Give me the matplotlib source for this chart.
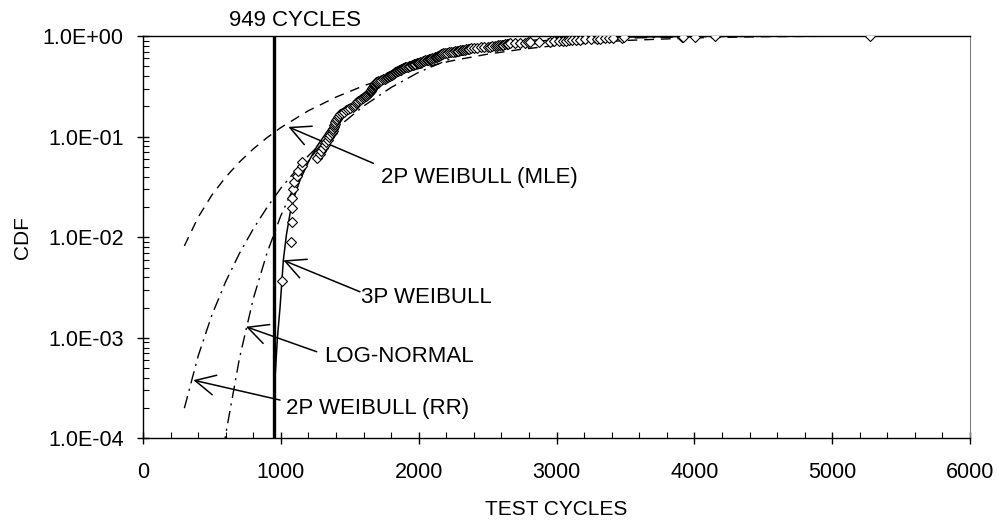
import matplotlib
matplotlib.use("Agg")
import matplotlib.pyplot as plt
from matplotlib.ticker import FuncFormatter, MultipleLocator, LogLocator, NullFormatter
from matplotlib.transforms import blended_transform_factory

plt.rcParams['font.family'] = ['Liberation Sans', 'DejaVu Sans']

# test results (failure cycles, median-rank CDF)
test_cycles = [1006, 1074, 1079, 1080, 1081, 1088, 1098, 1115, 1127, 1150,
               1157, 1265, 1282, 1292, 1305, 1318, 1330, 1340, 1352, 1360,
               1368, 1376, 1381, 1385, 1388, 1392, 1396, 1400, 1404, 1412,
               1420, 1430, 1440, 1455, 1470, 1485, 1500, 1520, 1530, 1540,
               1548, 1555, 1562, 1572, 1582, 1595, 1605, 1612, 1620, 1628,
               1635, 1641, 1646, 1650, 1654, 1657, 1660, 1664, 1667, 1670,
               1673, 1677, 1681, 1685, 1689, 1693, 1697, 1707, 1717, 1730,
               1742, 1754, 1762, 1770, 1777, 1784, 1791, 1798, 1804, 1810,
               1815, 1822, 1830, 1838, 1846, 1853, 1860, 1867, 1874, 1880,
               1887, 1895, 1903, 1911, 1920, 1929, 1938, 1948, 1957, 1966,
               1975, 1985, 1994, 2003, 2012, 2021, 2030, 2040, 2049, 2058,
               2066, 2075, 2083, 2091, 2100, 2108, 2116, 2124, 2132, 2137,
               2142, 2147, 2152, 2157, 2162, 2167, 2172, 2178, 2190, 2205,
               2220, 2236, 2251, 2263, 2275, 2287, 2299, 2311, 2322, 2333,
               2344, 2355, 2366, 2378, 2400, 2425, 2450, 2475, 2505, 2520,
               2535, 2550, 2565, 2578, 2590, 2602, 2614, 2626, 2638, 2650,
               2662, 2698, 2735, 2770, 2790, 2808, 2870, 2950, 2985, 3020,
               3047, 3070, 3090, 3110, 3140, 3170, 3210, 3250, 3292, 3316,
               3350, 3380, 3410, 3473, 3490, 3908, 3920, 4005, 4150, 5275]
test_cdf = [0.0037, 0.0089, 0.0142, 0.0194, 0.0247, 0.0299, 0.0352, 0.0404, 0.0457, 0.0509,
            0.0562, 0.0614, 0.0667, 0.0720, 0.0772, 0.0825, 0.0877, 0.0930, 0.0982, 0.1035,
            0.1087, 0.1140, 0.1192, 0.1245, 0.1297, 0.1350, 0.1402, 0.1455, 0.1507, 0.1560,
            0.1612, 0.1665, 0.1717, 0.1770, 0.1822, 0.1875, 0.1928, 0.1980, 0.2033, 0.2085,
            0.2138, 0.2190, 0.2243, 0.2295, 0.2348, 0.2400, 0.2453, 0.2505, 0.2558, 0.2610,
            0.2663, 0.2715, 0.2768, 0.2820, 0.2873, 0.2925, 0.2978, 0.3031, 0.3083, 0.3136,
            0.3188, 0.3241, 0.3293, 0.3346, 0.3398, 0.3451, 0.3503, 0.3556, 0.3608, 0.3661,
            0.3713, 0.3766, 0.3818, 0.3871, 0.3923, 0.3976, 0.4028, 0.4081, 0.4134, 0.4186,
            0.4239, 0.4291, 0.4344, 0.4396, 0.4449, 0.4501, 0.4554, 0.4606, 0.4659, 0.4711,
            0.4764, 0.4816, 0.4869, 0.4921, 0.4974, 0.5026, 0.5079, 0.5131, 0.5184, 0.5236,
            0.5289, 0.5341, 0.5394, 0.5446, 0.5499, 0.5551, 0.5604, 0.5656, 0.5709, 0.5762,
            0.5814, 0.5866, 0.5919, 0.5972, 0.6024, 0.6077, 0.6129, 0.6182, 0.6234, 0.6287,
            0.6339, 0.6392, 0.6444, 0.6497, 0.6549, 0.6602, 0.6654, 0.6707, 0.6760, 0.6812,
            0.6865, 0.6917, 0.6970, 0.7022, 0.7075, 0.7127, 0.7180, 0.7232, 0.7285, 0.7337,
            0.7390, 0.7442, 0.7495, 0.7547, 0.7600, 0.7652, 0.7705, 0.7757, 0.7810, 0.7862,
            0.7915, 0.7967, 0.8020, 0.8072, 0.8125, 0.8178, 0.8230, 0.8283, 0.8335, 0.8388,
            0.8440, 0.8493, 0.8545, 0.8598, 0.8650, 0.8703, 0.8755, 0.8808, 0.8860, 0.8913,
            0.8965, 0.9018, 0.9070, 0.9123, 0.9175, 0.9228, 0.9280, 0.9333, 0.9385, 0.9438,
            0.9490, 0.9543, 0.9595, 0.9648, 0.9700, 0.9753, 0.9805, 0.9858, 0.9910, 0.9963]

# fitted distributions
mle_cycles = [300, 400, 500, 600, 700, 800, 900, 1000, 1200, 1400, 1600, 1800,
              2000, 2250, 2500, 2750, 3000, 3500, 4000, 4500, 5000]
mle_cdf = [0.0082, 0.0158, 0.0263, 0.0396, 0.056, 0.0754, 0.0977, 0.123, 0.181, 0.247,
           0.320, 0.397, 0.475, 0.571, 0.660, 0.739, 0.806, 0.903, 0.958, 0.9845, 0.995]

rr_cycles = [300, 400, 500, 600, 700, 800, 900, 1000, 1200, 1400, 1600, 1800,
             2000, 2250, 2500, 2750, 3000, 3500, 4000, 4500, 5000]
rr_cdf = [0.0002, 0.00066, 0.00169, 0.00363, 0.00693, 0.0121, 0.0198, 0.0307, 0.0647,
          0.120, 0.201, 0.308, 0.436, 0.609, 0.768, 0.886, 0.956, 0.9975, 0.9999, 1.0, 1.0]

lognorm_cycles = [500, 600, 700, 800, 900, 1000, 1100, 1200, 1400, 1600, 1800,
                  2000, 2250, 2500, 3000, 3500, 4000, 4500, 5000]
lognorm_cdf = [0.000011, 0.00011, 0.00063, 0.00245, 0.0070, 0.0164, 0.0326, 0.0572, 0.1335,
               0.2417, 0.3666, 0.4916, 0.632, 0.745, 0.8875, 0.954, 0.9818, 0.9929, 0.9972]

w3p_cycles = [958, 975, 994, 1018, 1040, 1067, 1100, 1139, 1200, 1260, 1350, 1450,
              1600, 1800, 2000, 2250, 2500, 2750, 3000, 3500, 4000, 4500, 5000]
w3p_cdf = [0.0004, 0.001, 0.002, 0.0059, 0.0105, 0.0173, 0.026, 0.037, 0.056, 0.0794,
           0.12, 0.17, 0.25, 0.39, 0.52, 0.66, 0.77, 0.86, 0.92, 0.975, 0.993, 0.998, 0.9995]

threshold = 949

# label text, arrow head, arrow tail, text position (cycles, cdf)
labels = ["2P WEIBULL (MLE)", "3P WEIBULL", "LOG-NORMAL", "2P WEIBULL (RR)"]
arrow_heads = [(1054, 0.125), (1018, 0.0059), (747, 0.00129), (365, 0.00038)]
arrow_tails = [(1671, 0.0543), (1574, 0.00287), (1260, 0.000728), (994, 0.000241)]
label_pos = [(1725, 0.0348), (1580, 0.0022), (1313, 0.000579), (1036, 0.000175)]

fig = plt.figure(figsize=(9.98, 5.24), dpi=100)
ax = fig.add_axes([0.1433, 0.1632, 0.8287, 0.7681])

ax.plot(mle_cycles, mle_cdf, color='black', lw=1.0, dashes=(7, 5))
ax.plot(rr_cycles, rr_cdf, color='black', lw=1.0, dashes=(9, 4, 1.5, 4))
ax.plot(lognorm_cycles, lognorm_cdf, color='black', lw=1.0, dashes=(9, 4, 1.5, 4))
ax.plot(w3p_cycles, w3p_cdf, color='black', lw=1.1)
ax.axvline(threshold, color='black', lw=2.4)
ax.plot(test_cycles, test_cdf, linestyle='none', marker='D', markersize=5.4,
        markerfacecolor='white', markeredgecolor='black', markeredgewidth=0.8, zorder=5)

for text, head, tail, pos in zip(labels, arrow_heads, arrow_tails, label_pos):
    ax.annotate('', xy=head, xytext=tail,
                arrowprops=dict(arrowstyle='->,head_length=0.6,head_width=0.3',
                                mutation_scale=24, lw=1.1, color='black',
                                shrinkA=0, shrinkB=0))
    ax.text(pos[0], pos[1], text, fontsize=16, ha='left', va='baseline')

trans = blended_transform_factory(ax.transData, ax.transAxes)
ax.text(1105, 1.0256, f"{threshold} CYCLES", transform=trans, fontsize=16,
        ha='center', va='baseline')

ax.set_yscale('log')
ax.set_xlim(0, 6000)
ax.set_ylim(1e-4, 1)
ax.xaxis.set_major_locator(MultipleLocator(1000))
ax.xaxis.set_minor_locator(MultipleLocator(200))
ax.yaxis.set_major_locator(LogLocator(base=10, numticks=10))
ax.yaxis.set_minor_locator(LogLocator(base=10, subs=range(2, 10), numticks=20))
ax.yaxis.set_minor_formatter(NullFormatter())
ax.yaxis.set_major_formatter(FuncFormatter(lambda v, p: f"{v:.1E}"))

ax.tick_params(axis='both', which='major', direction='inout', length=8, width=1,
               labelsize=15.5)
ax.tick_params(axis='x', which='major', pad=13)
ax.tick_params(axis='y', which='major', pad=10)
ax.tick_params(axis='both', which='minor', direction='in', length=4, width=0.8)

for side in ['left', 'bottom', 'top']:
    ax.spines[side].set_linewidth(1.0)
ax.spines['right'].set_color('#808080')

ax.set_xlabel("TEST CYCLES", fontsize=15)
ax.xaxis.label.set_va('center')
ax.xaxis.set_label_coords(0.5, -0.1776)
ax.set_ylabel("CDF", fontsize=15)
ax.yaxis.label.set_va('center')
ax.yaxis.set_label_coords(-0.146, 0.5)

fig.savefig("out.png", dpi=100)
